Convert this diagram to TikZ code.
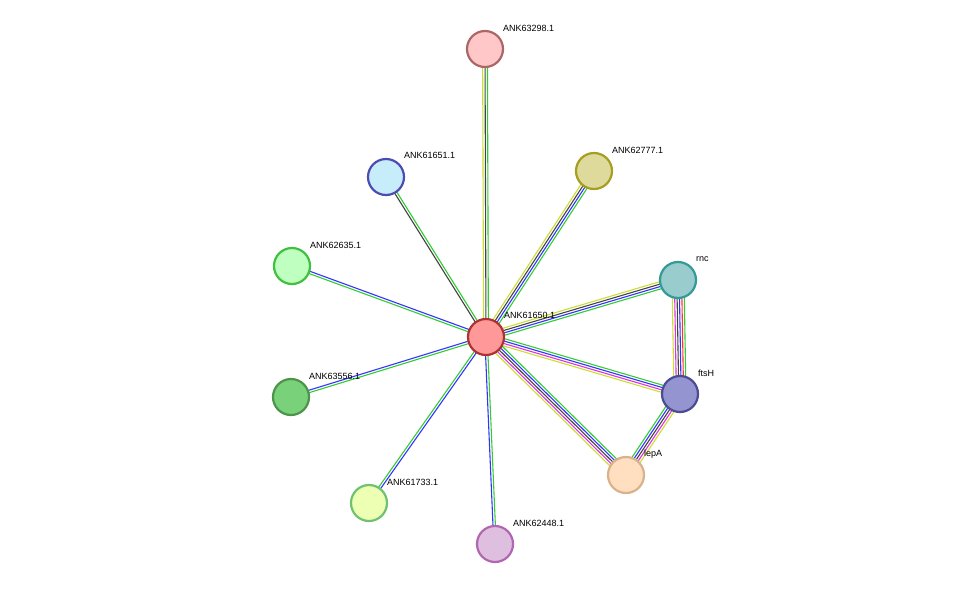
\documentclass[tikz,border=0pt]{standalone}
\usepackage{fontspec}
\setmainfont{Liberation Sans}
\usetikzlibrary{calc}

\definecolor{sgreen}{HTML}{33CC33}
\definecolor{sblue}{HTML}{3333FF}
\definecolor{sblack}{HTML}{444444}
\definecolor{syellow}{HTML}{CCDD33}
\definecolor{smag}{HTML}{DD33DD}
\definecolor{sred}{HTML}{FF3333}

\tikzset{
  prot/.style={circle, minimum size=36pt, inner sep=0pt, line width=2.2pt},
  lbl/.style={anchor=west, font=\fontsize{9}{10}\selectfont, inner sep=0pt}
}

% parallel coloured strands between two proteins
\newcommand\lnk[4]{%
  \foreach \c [count=\i] in {#4}{%
    \pgfmathsetmacro\o{(\i-(#3+1)/2)*2.4}%
    \draw[\c, line width=1.1pt] ($(#1)!\o pt!90:(#2)$) -- ($(#2)!\o pt!-90:(#1)$);
  }}

\begin{document}
\begin{tikzpicture}[x=1pt, y=-1pt]
\useasboundingbox (0,0) rectangle (975,590);

\coordinate (c) at (486,337);
\coordinate (p98) at (485,49);
\coordinate (p51) at (386,177);
\coordinate (p77) at (594,171);
\coordinate (p35) at (292,266);
\coordinate (rnc) at (678,280);
\coordinate (p56) at (291,397);
\coordinate (fts) at (680,394);
\coordinate (lep) at (626,475);
\coordinate (p33) at (369,503);
\coordinate (p48) at (495,544);

\lnk{c}{p98}{3}{sgreen,sblack,syellow}
\lnk{c}{p51}{2}{sgreen,sblack}
\lnk{c}{p77}{4}{sgreen,sblue,sblack,syellow}
\lnk{c}{p35}{2}{sblue,sgreen}
\lnk{c}{rnc}{4}{sgreen,sblue,sblack,syellow}
\lnk{c}{p56}{2}{sblue,sgreen}
\lnk{c}{fts}{4}{syellow,smag,sblue,sgreen}
\lnk{c}{lep}{5}{syellow,smag,sblack,sblue,sgreen}
\lnk{c}{p33}{2}{sgreen,sblue}
\lnk{c}{p48}{2}{sblue,sgreen}
\lnk{rnc}{fts}{6}{syellow,smag,sblack,sblue,sred,sgreen}
\lnk{fts}{lep}{5}{sgreen,sblue,sblack,smag,syellow}

\node[prot, fill=red!40, draw=red!60!black!80] (nc) at (c) {};
\node[prot, fill=red!22, draw=red!45!black!60] (n98) at (p98) {};
\node[prot, fill=cyan!22, draw=blue!40!gray] (n51) at (p51) {};
\node[prot, fill=yellow!50!gray!60, draw=olive!80] (n77) at (p77) {};
\node[prot, fill=green!25, draw=green!50!gray] (n35) at (p35) {};
\node[prot, fill=teal!40, draw=teal!80] (nrnc) at (rnc) {};
\node[prot, fill=green!50!gray!70, draw=green!40!black!70] (n56) at (p56) {};
\node[prot, fill=blue!40!gray!60, draw=blue!40!black!70] (nfts) at (fts) {};
\node[prot, fill=orange!25, draw=brown!60] (nlep) at (lep) {};
\node[prot, fill=lime!30, draw=green!40!gray!80] (n33) at (p33) {};
\node[prot, fill=violet!25, draw=violet!60] (n48) at (p48) {};

\node[lbl] at ($(c)+(18,-22)$) {ANK61650.1};
\node[lbl] at ($(p98)+(18,-21)$) {ANK63298.1};
\node[lbl] at ($(p51)+(18,-22)$) {ANK61651.1};
\node[lbl] at ($(p77)+(18,-21)$) {ANK62777.1};
\node[lbl] at ($(p35)+(18,-21)$) {ANK62635.1};
\node[lbl] at ($(rnc)+(18,-21)$) {rnc};
\node[lbl] at ($(p56)+(18,-21)$) {ANK63556.1};
\node[lbl] at ($(fts)+(18,-21)$) {ftsH};
\node[lbl] at ($(lep)+(18,-21)$) {lepA};
\node[lbl] at ($(p33)+(18,-21)$) {ANK61733.1};
\node[lbl] at ($(p48)+(18,-21)$) {ANK62448.1};
\end{tikzpicture}
\end{document}
